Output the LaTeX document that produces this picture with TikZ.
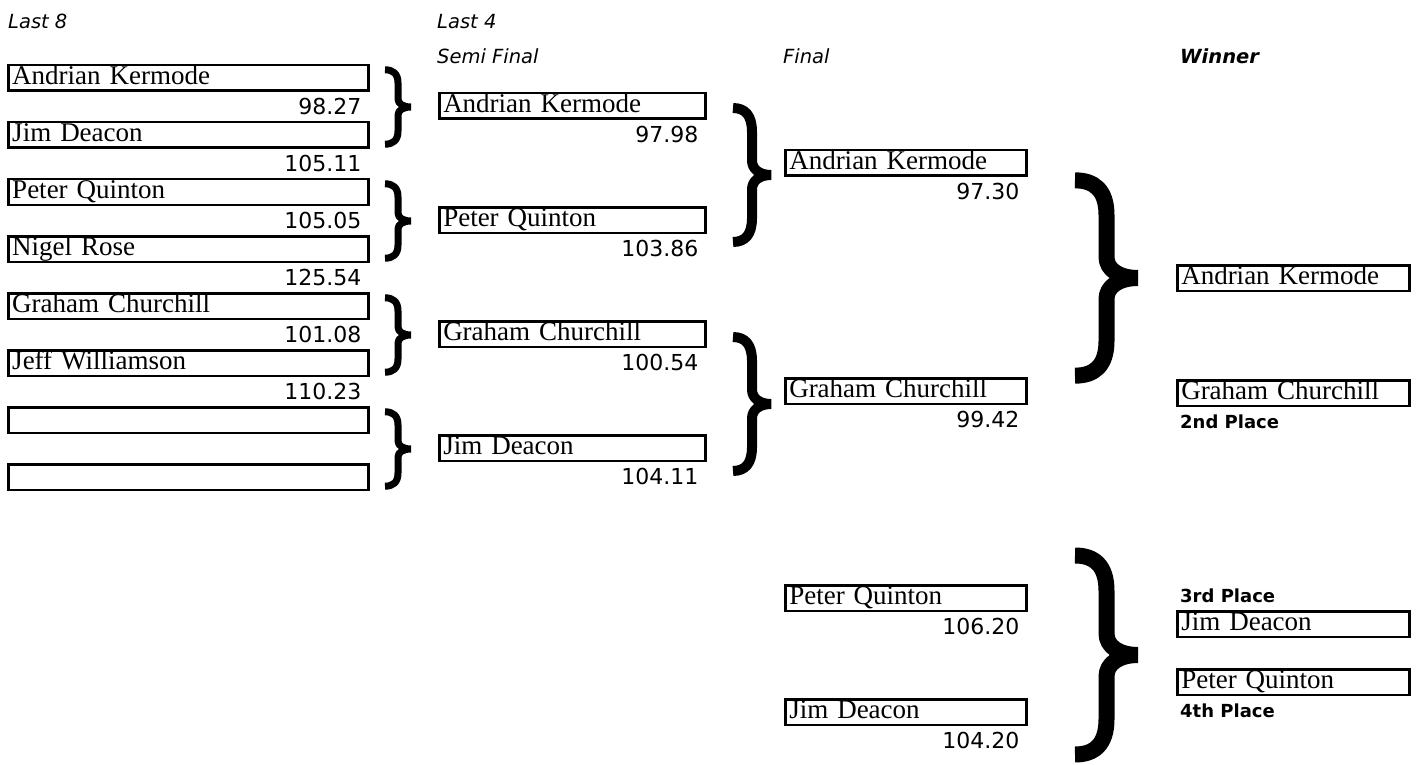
\documentclass[tikz,border=0pt]{standalone}
\usepackage{fontspec}
\setmainfont{Liberation Serif}
\newfontfamily\labelfont{DejaVu Sans}
\usetikzlibrary{positioning}
\tikzset{
  namebox/.style={draw, line width=2.5pt, anchor=north west, inner xsep=4pt, inner ysep=0pt,
    minimum height=25.5pt, text width=#1, align=left, text height=19pt, text depth=6pt,
    font=\fontsize{27}{27}\selectfont},
  score/.style={inner sep=0pt, font=\labelfont\fontsize{22}{22}\selectfont},
  heading/.style={inner sep=0pt, anchor=base west, font=\labelfont\itshape\fontsize{19.5}{19.5}\selectfont},
  place/.style={inner sep=0pt, anchor=base west, font=\labelfont\bfseries\fontsize{18}{18}\selectfont},
  curly/.pic={
    \draw[line cap=butt, line join=bevel]
      (0,0.035) .. controls (0.3,0.035) and (0.5,0.08) .. (0.5,0.2) -- (0.5,0.4)
      .. controls (0.5,0.46) and (0.7,0.5) .. (1,0.5)
      .. controls (0.7,0.5) and (0.5,0.54) .. (0.5,0.6) -- (0.5,0.8)
      .. controls (0.5,0.92) and (0.3,0.965) .. (0,0.965);
  }
}
\begin{document}
\begin{tikzpicture}[x=1pt, y=-1pt]
  \useasboundingbox (0,0) rectangle (1422,765);

  % headings
  \node[heading] (h8) at (8,29) {Last 8};
  \node[heading] (h4) at (437,29) {Last 4};
  \node[heading] (hsemi) at (437,64) {Semi Final};
  \node[heading] (hfinal) at (783,64) {Final};
  \node[heading, font=\labelfont\bfseries\itshape\fontsize{19.5}{19.5}\selectfont] (hwin) at (1180,64) {Winner};

  % last 8
  \node[namebox=352pt] (la) at (7,64) {Andrian Kermode};
  \node[namebox=352pt] (lb) at (7,121) {Jim Deacon};
  \node[namebox=352pt] (lc) at (7,178) {Peter Quinton};
  \node[namebox=352pt] (ld) at (7,235) {Nigel Rose};
  \node[namebox=352pt] (le) at (7,292) {Graham Churchill};
  \node[namebox=352pt] (lf) at (7,349) {Jeff Williamson};
  \node[namebox=352pt] (lg) at (7,406) {};
  \node[namebox=352pt] (lh) at (7,463) {};
  \node[score, below left=6pt and 8pt of la.south east] (sa) {98.27};
  \node[score, below left=6pt and 8pt of lb.south east] (sb) {105.11};
  \node[score, below left=6pt and 8pt of lc.south east] (sc) {105.05};
  \node[score, below left=6pt and 8pt of ld.south east] (sd) {125.54};
  \node[score, below left=6pt and 8pt of le.south east] (se) {101.08};
  \node[score, below left=6pt and 8pt of lf.south east] (sf) {110.23};

  \pic[xscale=26, yscale=80, line width=7pt] (ba) at (385,67) {curly};
  \pic[xscale=26, yscale=80, line width=7pt] (bb) at (385,181) {curly};
  \pic[xscale=26, yscale=80, line width=7pt] (bc) at (385,295) {curly};
  \pic[xscale=26, yscale=80, line width=7pt] (bd) at (385,409) {curly};

  % semi final
  \node[namebox=258pt] (sfa) at (438,92) {Andrian Kermode};
  \node[namebox=258pt] (sfb) at (438,206) {Peter Quinton};
  \node[namebox=258pt] (sfc) at (438,320) {Graham Churchill};
  \node[namebox=258pt] (sfd) at (438,434) {Jim Deacon};
  \node[score, below left=6pt and 8pt of sfa.south east] (ssa) {97.98};
  \node[score, below left=6pt and 8pt of sfb.south east] (ssb) {103.86};
  \node[score, below left=6pt and 8pt of sfc.south east] (ssc) {100.54};
  \node[score, below left=6pt and 8pt of sfd.south east] (ssd) {104.11};

  \pic[xscale=38, yscale=144, line width=10pt] (bsa) at (733,103) {curly};
  \pic[xscale=38, yscale=144, line width=10pt] (bsb) at (733,332) {curly};

  % final
  \node[namebox=233pt] (fa) at (784,149) {Andrian Kermode};
  \node[namebox=233pt] (fb) at (784,377) {Graham Churchill};
  \node[namebox=233pt] (fc) at (784,584) {Peter Quinton};
  \node[namebox=233pt] (fd) at (784,698) {Jim Deacon};
  \node[score, below left=6pt and 8pt of fa.south east] (sfa1) {97.30};
  \node[score, below left=6pt and 8pt of fb.south east] (sfb1) {99.42};
  \node[score, below left=6pt and 8pt of fc.south east] (sfc1) {106.20};
  \node[score, below left=6pt and 8pt of fd.south east] (sfd1) {104.20};

  \pic[xscale=63, yscale=210, line width=16pt] (bfa) at (1075,173) {curly};
  \pic[xscale=63, yscale=214, line width=16pt] (bfb) at (1075,548) {curly};

  % winner
  \node[namebox=224pt] (wa) at (1176,264) {Andrian Kermode};
  \node[namebox=224pt] (wb) at (1176,379) {Graham Churchill};
  \node[namebox=224pt] (wc) at (1176,610) {Jim Deacon};
  \node[namebox=224pt] (wd) at (1176,668) {Peter Quinton};
  \node[place] (p2) at (1180,428) {2nd Place};
  \node[place] (p3) at (1180,602) {3rd Place};
  \node[place] (p4) at (1180,717) {4th Place};
\end{tikzpicture}
\end{document}
